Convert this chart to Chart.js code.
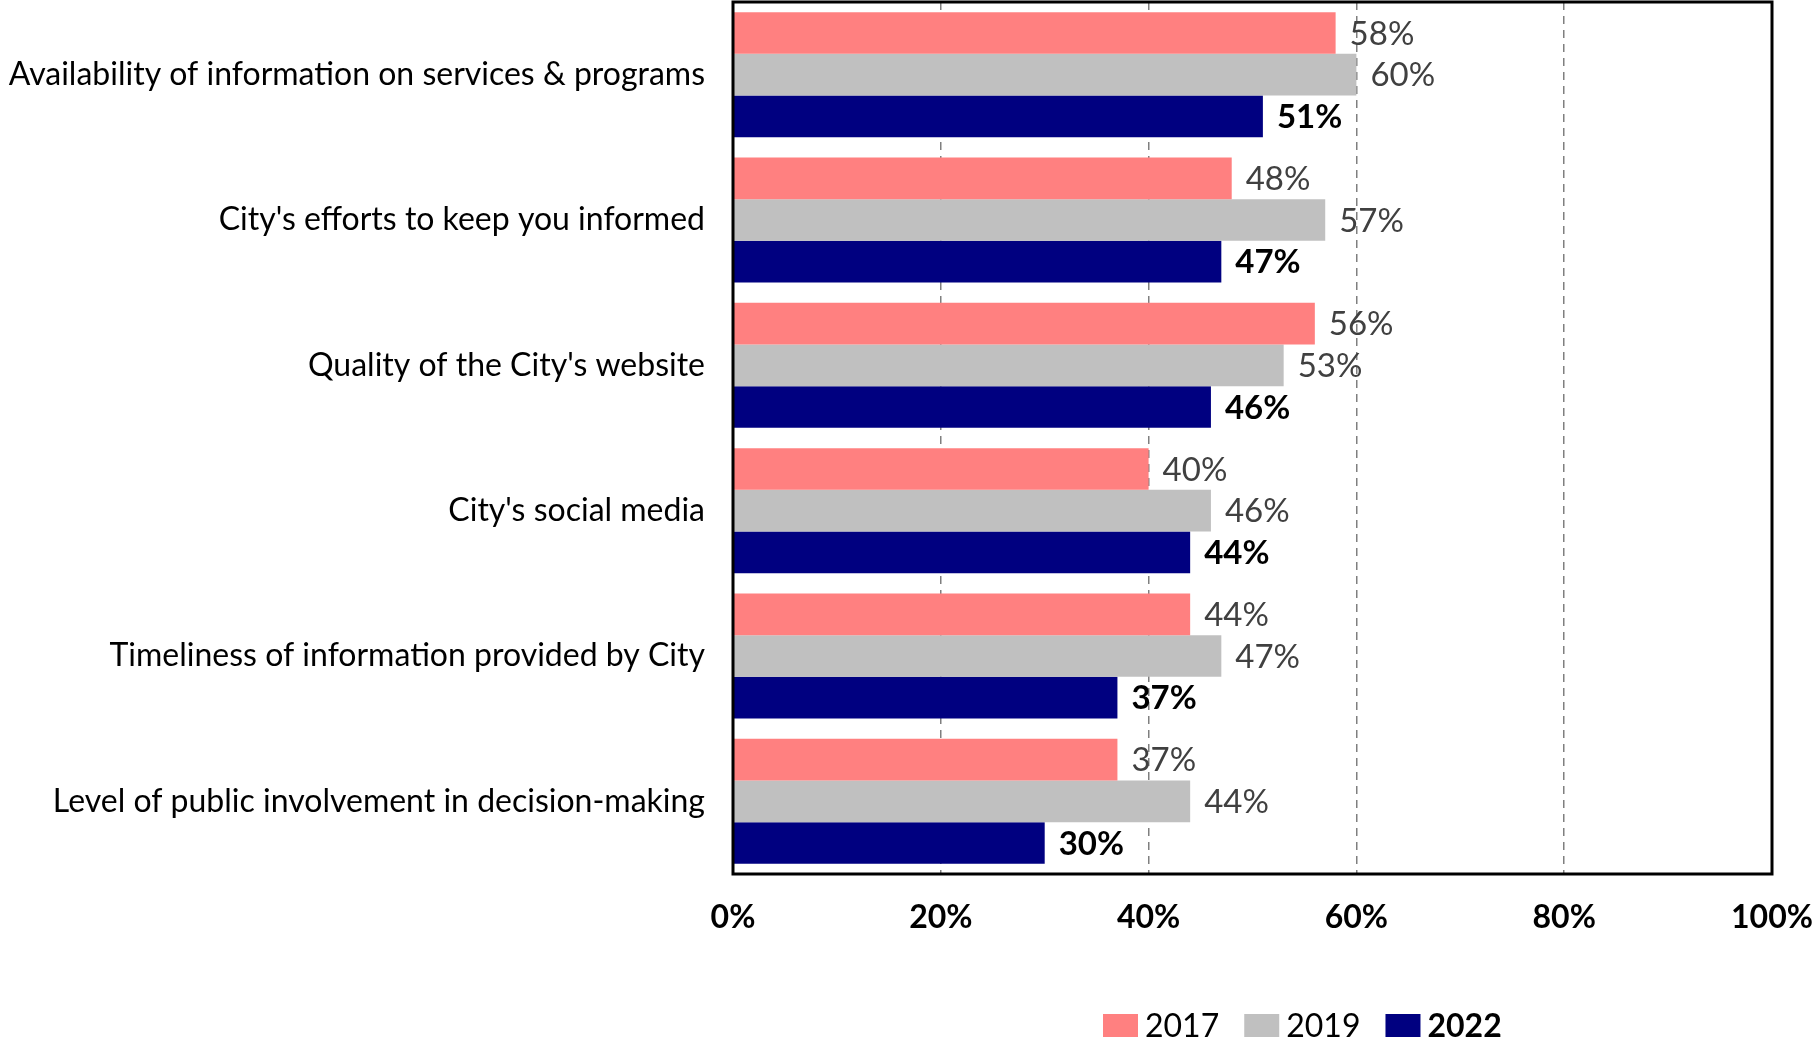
<!DOCTYPE html>
<html>
<head>
<meta charset="utf-8">
<script src="https://cdn.jsdelivr.net/npm/chart.js@4/dist/chart.umd.min.js"></script>
<style>
  html, body { margin: 0; padding: 0; background: #fff; }
  #wrap { width: 1816px; height: 1044px; }
</style>
</head>
<body>
<div id="wrap"><canvas id="chart" width="1816" height="1044"></canvas></div>
<script>
// categories and values
const categories = [
    "Availability of information on services & programs",
    "City's efforts to keep you informed",
    "Quality of the City's website",
    "City's social media",
    "Timeliness of information provided by City",
    "Level of public involvement in decision-making"
];
const years = ["2017", "2019", "2022"];
const values2017 = [58, 48, 56, 40, 44, 37];
const values2019 = [60, 57, 53, 46, 47, 44];
const values2022 = [51, 47, 46, 44, 37, 30];
const xTicks = [0, 20, 40, 60, 80, 100];

const FONT = "Lato, 'Open Sans', sans-serif";

// value labels at the end of each bar
const barLabels = {
    id: "barLabels",
    afterDatasetsDraw(chart) {
        const ctx = chart.ctx;
        ctx.save();
        ctx.textBaseline = "middle";
        ctx.textAlign = "left";
        chart.data.datasets.forEach((ds, i) => {
            const meta = chart.getDatasetMeta(i);
            const bold = i === 2;
            ctx.font = (bold ? "bold " : "") + "33px " + FONT;
            ctx.fillStyle = bold ? "#000000" : "#404040";
            meta.data.forEach((bar, j) => {
                ctx.fillText(ds.data[j] + "%", bar.x + 14, bar.y + 1);
            });
        });
        ctx.restore();
    }
};

// black frame round the plot area
const frame = {
    id: "frame",
    afterDatasetsDraw(chart) {
        const a = chart.chartArea;
        const ctx = chart.ctx;
        ctx.save();
        ctx.strokeStyle = "#000";
        ctx.lineWidth = 3;
        ctx.strokeRect(a.left, a.top, a.right - a.left, a.bottom - a.top);
        ctx.restore();
    }
};

// legend with the last year in bold
const legendBottom = {
    id: "legendBottom",
    afterDraw(chart) {
        const ctx = chart.ctx;
        let x = 1103;
        const y = 1026;
        ctx.save();
        ctx.textBaseline = "middle";
        ctx.textAlign = "left";
        chart.data.datasets.forEach((ds, i) => {
            ctx.fillStyle = ds.backgroundColor;
            ctx.fillRect(x, y - 12, 35, 23);
            x += 42;
            ctx.font = (i === 2 ? "bold " : "") + "32px " + FONT;
            ctx.fillStyle = "#000";
            ctx.fillText(ds.label, x, y + 1);
            x += ctx.measureText(ds.label).width + 25;
        });
        ctx.restore();
    }
};

const ctx = document.getElementById("chart").getContext("2d");

new Chart(ctx, {
    type: "bar",
    data: {
        labels: categories,
        datasets: [
            { label: years[0], data: values2017, backgroundColor: "#FF8080" },
            { label: years[1], data: values2019, backgroundColor: "#C0C0C0" },
            { label: years[2], data: values2022, backgroundColor: "#000080" }
        ]
    },
    options: {
        indexAxis: "y",
        responsive: false,
        animation: false,
        devicePixelRatio: 1,
        layout: { padding: { top: 2, right: 44, bottom: 0, left: 0 } },
        datasets: {
            bar: { categoryPercentage: 0.86, barPercentage: 1.0, borderWidth: 0 }
        },
        plugins: {
            legend: { display: false },
            tooltip: { enabled: false }
        },
        scales: {
            x: {
                min: 0,
                max: 100,
                afterBuildTicks(scale) {
                    scale.ticks = xTicks.map(v => ({ value: v }));
                },
                afterFit(scale) {
                    scale.height = 170;
                    scale.paddingLeft = 0;
                    scale.paddingRight = 0;
                },
                grid: {
                    color: c => (c.tick && (c.tick.value === 0 || c.tick.value === 100)) ? "rgba(0,0,0,0)" : "#7F7F7F",
                    lineWidth: 1.5,
                    drawTicks: false
                },
                border: { display: false, dash: [8, 6] },
                ticks: {
                    padding: 24,
                    color: "#000",
                    font: { family: FONT, size: 32, weight: "bold" },
                    callback: v => v + "%"
                }
            },
            y: {
                afterFit(scale) {
                    scale.width = 733;
                    scale.paddingTop = 0;
                    scale.paddingBottom = 0;
                },
                grid: { display: false },
                border: { display: false },
                ticks: {
                    padding: 20,
                    color: "#000",
                    font: { family: FONT, size: 32 }
                }
            }
        }
    },
    plugins: [barLabels, frame, legendBottom]
});
</script>
</body>
</html>
